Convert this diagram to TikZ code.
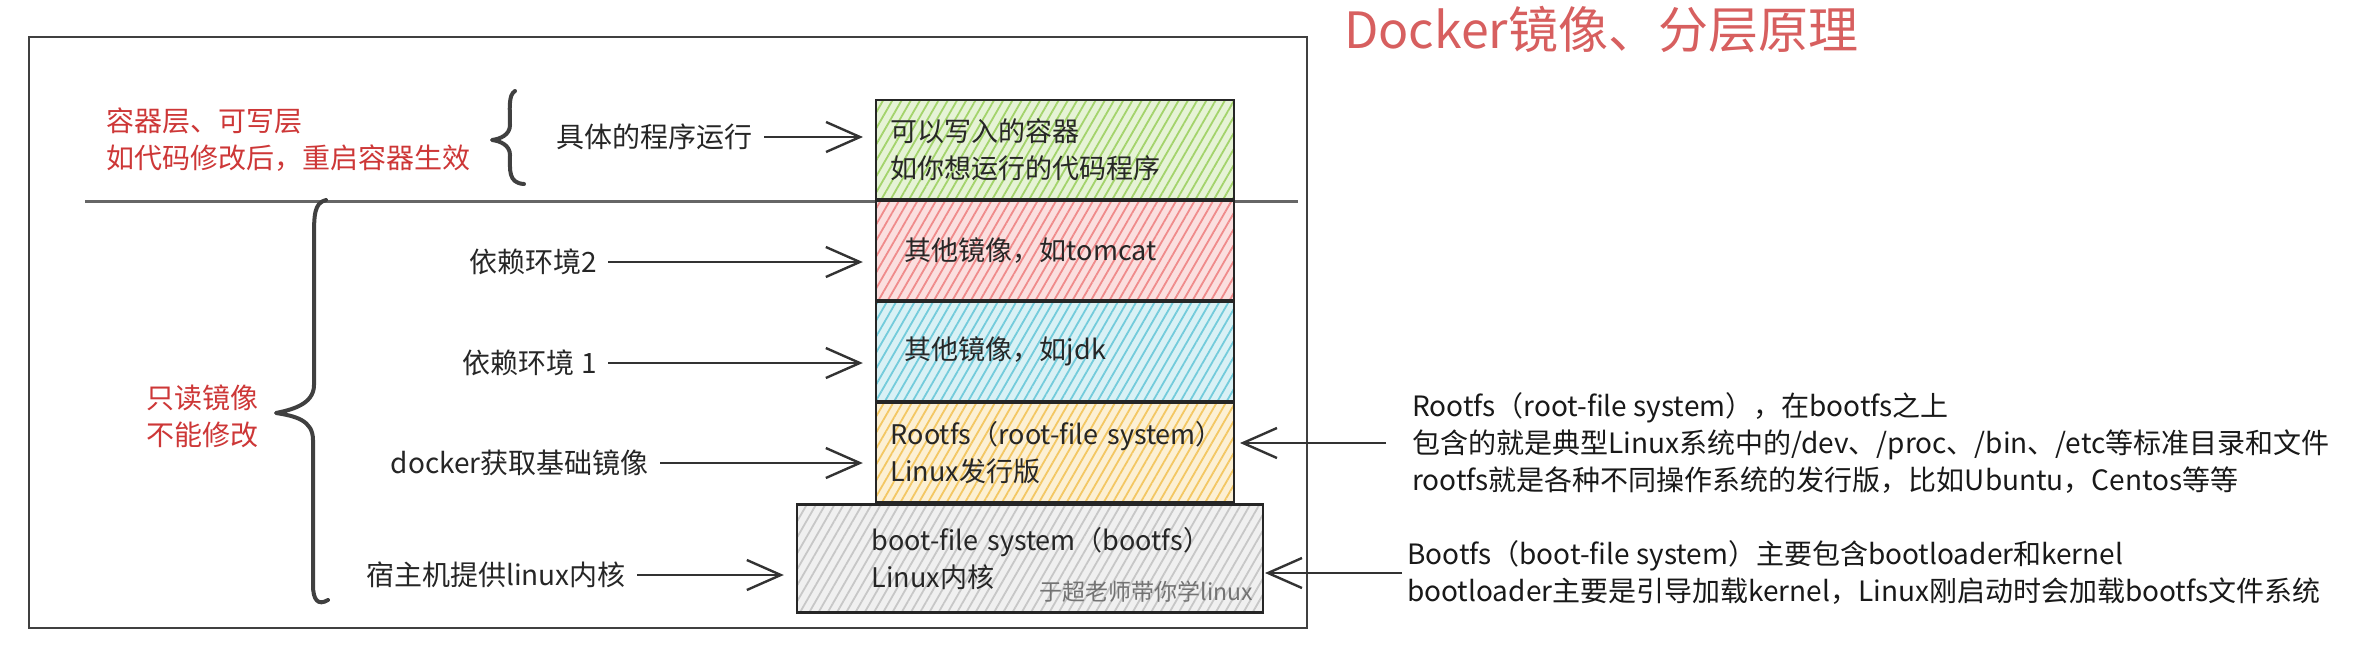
\documentclass[tikz,border=0pt]{standalone}
\usepackage{fontspec}
\setmainfont{Noto Sans CJK SC}
\usepackage{tikz}
\usetikzlibrary{positioning, arrows.meta, patterns.meta}
\definecolor{notered}{RGB}{205,55,55}
\definecolor{titlered}{RGB}{215,95,95}
\definecolor{layergreen}{RGB}{140,200,70}
\definecolor{layerred}{RGB}{235,110,110}
\definecolor{layerblue}{RGB}{80,190,210}
\definecolor{layeryellow}{RGB}{240,185,60}
\definecolor{layergray}{RGB}{185,185,185}
\newcommand{\boxfont}{\fontsize{28}{37}\selectfont}
\newcommand{\layerfont}{\fontsize{27}{37}\selectfont}
\tikzset{layer/.style={draw=black!85, line width=2.2pt, preaction={fill=#1!22},
    pattern={Lines[angle=60,distance=8pt,line width=1.8pt]}, pattern color=#1!80,
    minimum width=358pt, minimum height=99pt, inner ysep=0pt, align=left,
    font=\layerfont, text=black!85}}
\tikzset{lbl/.style={font=\boxfont, text=black!85, inner sep=0pt},
    note/.style={font=\boxfont, text=notered, inner sep=0pt, align=left, anchor=west},
    info/.style={font=\boxfont, text=black!90, inner sep=0pt, align=left, anchor=west},
    arrow/.style={draw=black!80, line width=2.4pt, -{Straight Barb[length=34pt,width=30pt]},
        shorten <=11pt, shorten >=12pt},
    brace/.style={draw=black!75, line width=4pt, line cap=round, line join=round}}

\begin{document}
\begin{tikzpicture}[x=1pt, y=-1pt]
            \useasboundingbox (0,0) rectangle (2378,654);
            \draw[black!75, line width=2.4pt] (29,37) rectangle (1307,628);
            \draw[black!60, line width=3pt] (85,201) -- (1298,201);

            \node[layer=layergreen, anchor=north west, inner xsep=15pt, text width=328pt] (writable) at (875,99) {可以写入的容器\\如你想运行的代码程序};
            \node[layer=layerred, inner xsep=29pt, text width=300pt] (tomcat) [below=0pt of writable] {其他镜像，如tomcat};
            \node[layer=layerblue, inner xsep=29pt, text width=300pt] (jdk) [below=0pt of tomcat] {其他镜像，如jdk};
            \node[layer=layeryellow, inner xsep=15pt, text width=328pt] (rootfs) [below=0pt of jdk] {\mbox{Rootfs（root-file system）}\\Linux发行版};
            \node[layer=layergray, minimum width=466pt, minimum height=108pt, inner xsep=75pt, text width=316pt] (bootfs) [below=0pt of rootfs, xshift=-25pt] {\mbox{boot-file system（bootfs）}\\Linux内核};
            \node[font=\fontsize{23}{26}\selectfont, text=black!55, inner sep=0pt] (wm) [above left=11pt and 11pt of bootfs.south east] {于超老师带你学linux};

            \node[font=\fontsize{50}{54}\selectfont, text=titlered, inner sep=0pt, anchor=west] (title) at (1344,30) {Docker镜像、分层原理};
            \node[note] (rwnote) at (106,140) {容器层、可写层\\如代码修改后，重启容器生效};
            \node[note] (ronote) at (146,416) {只读镜像\\不能修改};

            \node[lbl, anchor=east] (run) at (753,137) {具体的程序运行};
            \node[lbl, anchor=east] (dep2) at (597,262) {依赖环境2};
            \node[lbl, anchor=east] (dep1) at (597,363) {依赖环境 1};
            \node[lbl, anchor=east] (base) at (649,463) {docker获取基础镜像};
            \node[lbl, anchor=east] (kernel) at (626,575) {宿主机提供linux内核};

            \node[info] (rootinfo) at (1412,443) {Rootfs（root-file system），在bootfs之上\\包含的就是典型Linux系统中的/dev、/proc、/bin、/etc等标准目录和文件\\rootfs就是各种不同操作系统的发行版，比如Ubuntu，Centos等等};
            \node[info] (bootinfo) at (1407,573) {Bootfs（boot-file system）主要包含bootloader和kernel\\bootloader主要是引导加载kernel，Linux刚启动时会加载bootfs文件系统};

            \path[brace] (515,91) .. controls (508,95) and (510,110) .. (510,125)
                .. controls (510,135) and (500,139) .. (492,140)
                .. controls (500,141) and (510,145) .. (510,155)
                .. controls (510,170) and (508,183) .. (524,184);
            \path[brace] (326,200) .. controls (314,203) and (314,215) .. (314,240)
                -- (314,385) .. controls (314,405) and (290,410) .. (276,413)
                .. controls (295,416) and (313,420) .. (313,440)
                -- (313,585) .. controls (313,600) and (318,606) .. (328,600);

            \path
            (run.east) edge[arrow] (run.east -| writable.west)
            (dep2.east) edge[arrow] (dep2.east -| tomcat.west)
            (dep1.east) edge[arrow] (dep1.east -| jdk.west)
            (base.east) edge[arrow] (base.east -| rootfs.west)
            (kernel.east) edge[arrow] (kernel.east -| bootfs.west)
            (rootinfo.west) edge[arrow, shorten <=26pt, shorten >=5pt] (rootinfo.west -| rootfs.east)
            (bootinfo.west) edge[arrow, shorten <=5pt, shorten >=1pt] (bootinfo.west -| bootfs.east);
\end{tikzpicture}
\end{document}
